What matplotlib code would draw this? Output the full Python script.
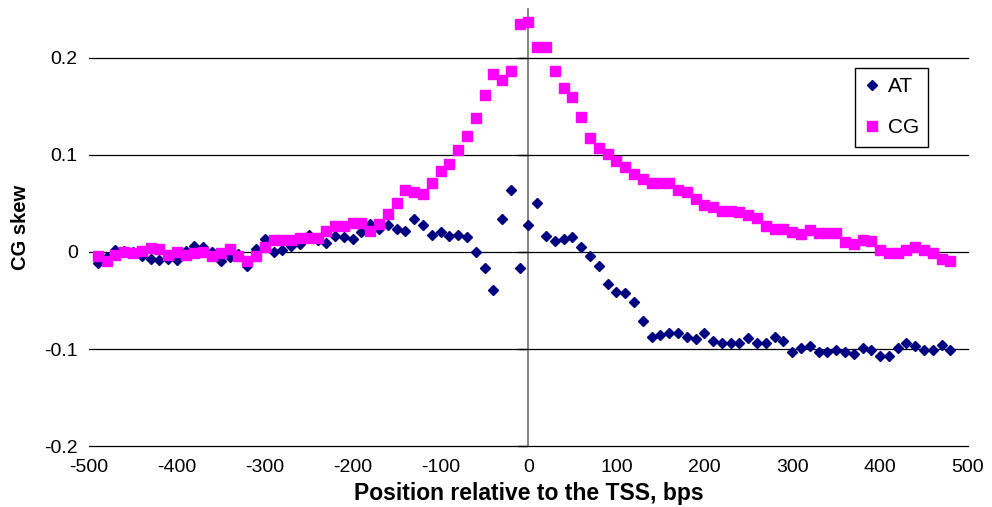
import matplotlib
matplotlib.use("Agg")
import matplotlib.pyplot as plt

plt.rcParams['font.family'] = ['Liberation Sans', 'DejaVu Sans']

# positions relative to the TSS (bp), one point every 10 bp
positions = list(range(-490, 490, 10))

at_skew = [
    -0.011, -0.005, 0.002, 0.001, 0.000, -0.004, -0.007, -0.008, -0.007, -0.008,   # -490..-400
    0.001, 0.006, 0.005, 0.000, -0.009, -0.005, -0.002, -0.014, 0.003, 0.013,      # -390..-300
    0.000, 0.002, 0.006, 0.008, 0.018, 0.012, 0.009, 0.016, 0.015, 0.013,          # -290..-200
    0.021, 0.029, 0.024, 0.028, 0.024, 0.022, 0.034, 0.028, 0.018, 0.021,          # -190..-100
    0.017, 0.018, 0.015, 0.000, -0.017, -0.039, 0.034, 0.064, -0.017,              # -90..-10
    0.028,                                                                         # 0
    0.051, 0.017, 0.011, 0.013, 0.015, 0.005, -0.004, -0.014, -0.033, -0.041,      # 10..100
    -0.042, -0.052, -0.071, -0.088, -0.086, -0.084, -0.084, -0.088, -0.090, -0.083,  # 110..200
    -0.092, -0.094, -0.094, -0.094, -0.089, -0.094, -0.094, -0.088, -0.092, -0.103,  # 210..300
    -0.099, -0.097, -0.103, -0.103, -0.101, -0.103, -0.105, -0.099, -0.101, -0.107,  # 310..400
    -0.107, -0.099, -0.094, -0.097, -0.101, -0.101, -0.096, -0.101,                # 410..480
]

cg_skew = [
    -0.004, -0.009, -0.003, 0.000, -0.001, 0.001, 0.004, 0.003, -0.003, 0.000,     # -490..-400
    -0.003, -0.001, 0.000, -0.004, -0.001, 0.003, -0.004, -0.009, -0.004, 0.005,   # -390..-300
    0.012, 0.012, 0.012, 0.014, 0.014, 0.014, 0.022, 0.027, 0.027, 0.030,          # -290..-200
    0.030, 0.022, 0.029, 0.039, 0.050, 0.064, 0.062, 0.060, 0.071, 0.084,          # -190..-100
    0.091, 0.105, 0.120, 0.138, 0.162, 0.184, 0.177, 0.187, 0.235,                 # -90..-10
    0.237,                                                                         # 0
    0.211, 0.211, 0.187, 0.169, 0.160, 0.139, 0.117, 0.107, 0.101, 0.094,          # 10..100
    0.088, 0.080, 0.075, 0.071, 0.071, 0.071, 0.064, 0.062, 0.055, 0.048,          # 110..200
    0.046, 0.042, 0.042, 0.041, 0.038, 0.035, 0.027, 0.024, 0.024, 0.021,          # 210..300
    0.019, 0.023, 0.020, 0.020, 0.020, 0.010, 0.008, 0.012, 0.011, 0.002,          # 310..400
    -0.001, -0.001, 0.002, 0.005, 0.002, -0.001, -0.007, -0.009,                   # 410..480
]

y_ticks = [-0.2, -0.1, 0.0, 0.1, 0.2]
y_tick_labels = ["-0.2", "-0.1", "0", "0.1", "0.2"]
x_ticks = [-500, -400, -300, -200, -100, 0, 100, 200, 300, 400, 500]

fig = plt.figure(figsize=(9.92, 5.07), dpi=100)
ax = fig.add_axes([0.0897, 0.1203, 0.8861, 0.861])

ax.plot(positions, at_skew, linestyle='none', marker='D', ms=5.2,
        color='#000080', mec='#000080', label='AT')
ax.plot(positions, cg_skew, linestyle='none', marker='s', ms=6.6,
        color='#FF00FF', mec='#FF00FF', label='CG')

ax.set_xlim(-500, 500)
ax.set_ylim(-0.2, 0.25)
ax.set_xticks(x_ticks)
ax.set_xticklabels([str(v) for v in x_ticks])
ax.set_yticks(y_ticks)
ax.set_yticklabels(y_tick_labels)
ax.tick_params(axis='both', length=0, labelsize=14)
ax.tick_params(axis='y', pad=8)
ax.tick_params(axis='x', pad=9)
for s in ax.spines.values():
    s.set_visible(False)
ax.grid(axis='y', color='black', lw=0.9)
ax.set_axisbelow(True)
# keep the -0.2 gridline (sits on the lower limit) fully visible
for gl in ax.get_ygridlines():
    gl.set_clip_on(False)

# value axis crossing at x = 0 (middle of the plot)
sec = ax.secondary_yaxis(0.5)
sec.set_yticks(y_ticks)
sec.tick_params(direction='in', length=7, width=1, labelright=False, labelleft=False)
for s in sec.spines.values():
    s.set_color('#6e6e6e')
    s.set_linewidth(1.2)

ax.set_xlabel('Position relative to the TSS, bps', fontsize=16.5, fontweight='bold', labelpad=5)
ax.set_ylabel('CG skew', fontsize=14.5, fontweight='bold', labelpad=10)

leg = ax.legend(loc='upper left', bbox_to_anchor=(0.871, 0.866), borderaxespad=0,
                frameon=True, fancybox=False, edgecolor='black', framealpha=1,
                fontsize=15, borderpad=0.45, labelspacing=1.05, handlelength=0.8,
                handletextpad=0.35)
leg.get_frame().set_linewidth(1.0)

fig.savefig('out.png', dpi=100)
